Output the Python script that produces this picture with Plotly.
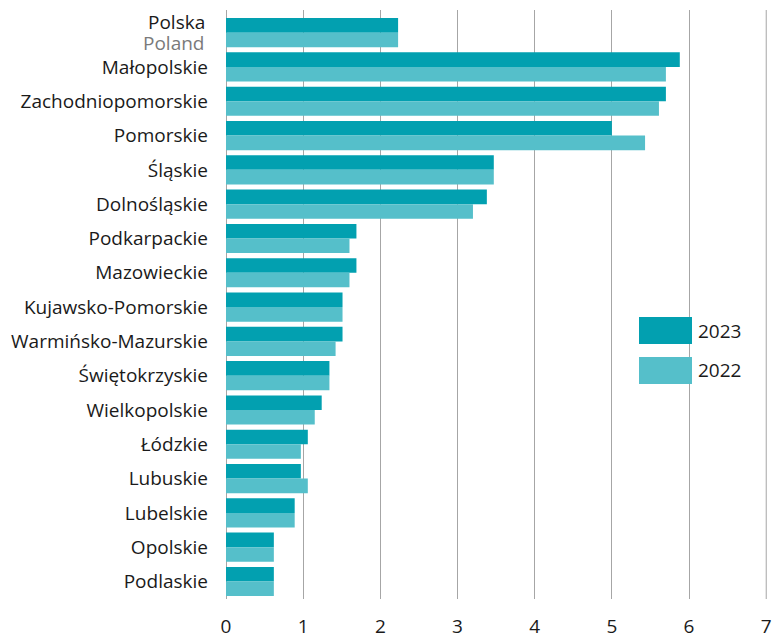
import plotly.graph_objects as go

categories = ["Polska", "Małopolskie", "Zachodniopomorskie", "Pomorskie",
              "Śląskie", "Dolnośląskie", "Podkarpackie", "Mazowieckie",
              "Kujawsko-Pomorskie", "Warmińsko-Mazurskie", "Świętokrzyskie",
              "Wielkopolskie", "Łódzkie", "Lubuskie", "Lubelskie", "Opolskie", "Podlaskie"]
polska_en = "Poland"
values_2023 = [2.23, 5.88, 5.7, 5.0, 3.47, 3.38, 1.69, 1.69, 1.51, 1.51, 1.34,
               1.24, 1.06, 0.97, 0.89, 0.62, 0.62]
values_2022 = [2.23, 5.7, 5.61, 5.43, 3.47, 3.2, 1.6, 1.6, 1.51, 1.42, 1.34,
               1.15, 0.97, 1.06, 0.89, 0.62, 0.62]
series_names = ["2023", "2022"]
x_ticks = [0, 1, 2, 3, 4, 5, 6, 7]

c23 = "#02a0b0"
c22 = "#55bfca"
GRID = "#a6a6a6"
FONT = "Open Sans"

W, H = 773, 639
L, R, T, B = 226, 6, 10, 40
PW = W - L - R
PH = H - T - B

fig = go.Figure()
fig.add_trace(go.Bar(y=categories, x=values_2023, orientation="h", name=series_names[0],
                     marker=dict(color=c23, line=dict(width=0))))
fig.add_trace(go.Bar(y=categories, x=values_2022, orientation="h", name=series_names[1],
                     marker=dict(color=c22, line=dict(width=0))))

ticktext = [""] + categories[1:]

fig.update_layout(
    width=W, height=H,
    margin=dict(l=L, r=R, t=T, b=B),
    plot_bgcolor="white", paper_bgcolor="white",
    barmode="group", bargap=0.15, bargroupgap=0,
    showlegend=False,
    font=dict(family=FONT, size=19, color="#1a1a1a"),
    xaxis=dict(range=[0, 7.01], tickvals=x_ticks, showgrid=True, gridcolor=GRID, gridwidth=1,
               zeroline=True, zerolinecolor=GRID, zerolinewidth=1, automargin=False,
               ticks="", ticklabelstandoff=14, tickfont=dict(size=19, color="#1a1a1a"),
               showline=False, fixedrange=True),
    yaxis=dict(categoryorder="array", categoryarray=categories, range=[16.51, -0.66],
               tickvals=categories, ticktext=ticktext,
               automargin=False,
               ticks="", ticklabelstandoff=17, tickfont=dict(size=19, color="#1a1a1a"),
               showgrid=False, zeroline=False, showline=False, fixedrange=True),
)

# make sure the last gridline (at the axis end) is drawn
fig.add_shape(type="line", xref="x", yref="paper", x0=x_ticks[-1], x1=x_ticks[-1], y0=0, y1=1,
              line=dict(color=GRID, width=1), layer="below")

# two-line label for Polska / Poland
lab_x = -19 / PW
fig.add_annotation(xref="paper", yref="y", x=lab_x, y=categories[0], yshift=11,
                   text=categories[0], showarrow=False, xanchor="right", yanchor="middle",
                   font=dict(size=19, color="#1a1a1a"))
fig.add_annotation(xref="paper", yref="y", x=lab_x, y=categories[0], yshift=-10,
                   text=polska_en, showarrow=False, xanchor="right", yanchor="middle",
                   font=dict(size=19, color="#7a7a7a"))

# custom legend
def py(pix):
    return 1 - (pix - T) / PH

def px(pix):
    return (pix - L) / PW

for i, (name, col) in enumerate(zip(series_names, [c23, c22])):
    ytop = 317 + i * 40
    ybot = 344 + i * 40
    fig.add_shape(type="rect", xref="paper", yref="paper",
                  x0=px(639), x1=px(692), y0=py(ybot), y1=py(ytop),
                  fillcolor=col, line=dict(width=0))
    fig.add_annotation(xref="paper", yref="paper", x=px(696), y=py((ytop + ybot) / 2),
                       text=name, showarrow=False, xanchor="left", yanchor="middle",
                       font=dict(size=19, color="#1a1a1a"))

fig.write_html("out.html", config={"displayModeBar": False},
               post_script="document.body.style.margin='0';document.body.style.overflow='hidden';")
